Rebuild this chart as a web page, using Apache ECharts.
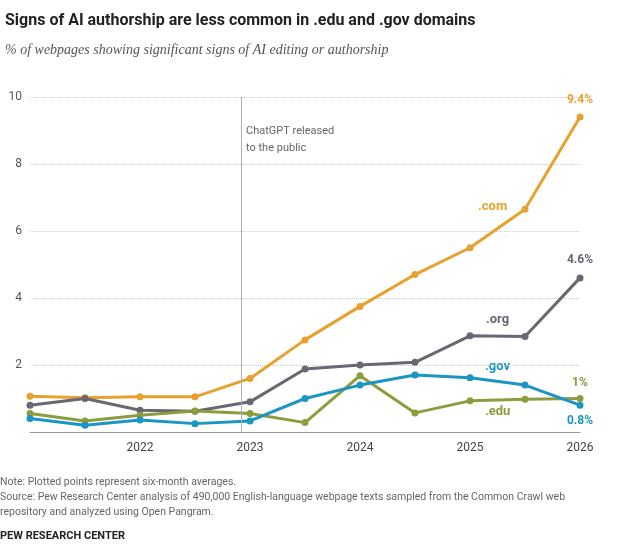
<!DOCTYPE html>
<html lang="en" style="height: 100%">
<head>
<meta charset="UTF-8">
<title>AI authorship</title>
<script src="https://cdn.jsdelivr.net/npm/echarts@6/dist/echarts.min.js"></script>
</head>
<body style="height: 100%;margin: 0;background:#fff">
<div id="chart" style="width:640px;height:553px"></div>
<script>
    var periods = [2021, 2021.5, 2022, 2022.5, 2023, 2023.5, 2024, 2024.5, 2025, 2025.5, 2026];
    var comData = [1.07, 1.02, 1.05, 1.05, 1.6, 2.75, 3.75, 4.7, 5.5, 6.65, 9.4];
    var orgData = [0.8, 1.0, 0.65, 0.62, 0.9, 1.88, 2.0, 2.08, 2.87, 2.85, 4.6];
    var govData = [0.4, 0.2, 0.36, 0.25, 0.33, 1.0, 1.4, 1.7, 1.62, 1.4, 0.8];
    var eduData = [0.55, 0.33, 0.5, 0.63, 0.55, 0.28, 1.68, 0.57, 0.93, 0.98, 1.0];
    var chatgptDate = 2022.92;

    function pairs(arr) {
        return periods.map(function (p, i) { return [p, arr[i]]; });
    }
    var font = 'Franklin Gothic, Liberation Sans Narrow, Roboto, sans-serif';

    function mkSeries(name, data, color, lastLabel) {
        var d = pairs(data);
        if (lastLabel) {
            d[d.length - 1] = {
                value: d[d.length - 1],
                label: { show: true, position: lastLabel.pos || 'top', formatter: lastLabel.text,
                    color: color, fontWeight: 'bold', fontSize: 12, fontFamily: font, distance: lastLabel.dist || 6 }
            };
        }
        return {
            name: name, type: 'line', data: d, symbol: 'circle', symbolSize: 7,
            lineStyle: { color: color, width: 3 }, itemStyle: { color: color },
            label: { show: false }, z: 3
        };
    }

    var chart = echarts.init(document.getElementById('chart'));
    var s = [
        mkSeries('.com', comData, '#e8a02e', { text: '9.4%', pos: 'top', dist: 8 }),
        mkSeries('.org', orgData, '#6b6672', { text: '4.6%', pos: 'top', dist: 8 }),
        mkSeries('.edu', eduData, '#8c9d3e', { text: '1%', pos: 'top', dist: 6 }),
        mkSeries('.gov', govData, '#1b95c2', { text: '0.8%', pos: 'bottom', dist: 6 })
    ];
    s[0].markLine = {
        silent: true, symbol: 'none', label: { show: false },
        lineStyle: { color: '#b0b0b0', type: 'solid', width: 1 },
        data: [[{ coord: [chatgptDate, 0] }, { coord: [chatgptDate, 10] }]]
    };

    chart.setOption({
        animation: false,
        grid: { left: 30, right: 60, top: 97, bottom: 121 },
        title: [
            { text: 'Signs of AI authorship are less common in .edu and .gov domains', left: 0, top: 8,
              textStyle: { fontSize: 16, fontWeight: 'bold', color: '#222', fontFamily: font } },
            { text: '% of webpages showing significant signs of AI editing or authorship', left: 0, top: 38,
              textStyle: { fontSize: 14, fontStyle: 'italic', fontWeight: 'normal', color: '#555', fontFamily: 'Liberation Serif, serif' } }
        ],
        xAxis: {
            type: 'value', min: 2021, max: 2026, interval: 1,
            axisLine: { show: true, lineStyle: { color: '#999' } },
            axisTick: { show: false }, splitLine: { show: false },
            axisLabel: { color: '#444', fontSize: 12, fontFamily: font, margin: 10,
                formatter: function (v) { return v === 2021 ? '' : String(v); } }
        },
        yAxis: {
            type: 'value', min: 0, max: 10, interval: 2,
            axisLine: { show: false }, axisTick: { show: false },
            axisLabel: { color: '#555', fontSize: 12, fontFamily: font, margin: 8,
                formatter: function (v) { return v === 0 ? '' : v; } },
            splitLine: { lineStyle: { color: '#ccc', type: 'dotted' } }
        },
        graphic: [
            { type: 'text', left: 246, top: 123, style: { text: 'ChatGPT released\nto the public', fill: '#666', fontSize: 11, lineHeight: 17, fontFamily: font } },
            { type: 'text', left: 478, top: 200, style: { text: '.com', fill: '#e8a02e', fontSize: 13, fontWeight: 'bold', fontFamily: font } },
            { type: 'text', left: 486, top: 313, style: { text: '.org', fill: '#6b6672', fontSize: 13, fontWeight: 'bold', fontFamily: font } },
            { type: 'text', left: 485, top: 360, style: { text: '.gov', fill: '#1b95c2', fontSize: 13, fontWeight: 'bold', fontFamily: font } },
            { type: 'text', left: 485, top: 405, style: { text: '.edu', fill: '#8c9d3e', fontSize: 13, fontWeight: 'bold', fontFamily: font } },
            { type: 'text', left: 0, top: 475, style: { text: 'Note: Plotted points represent six-month averages.\nSource: Pew Research Center analysis of 490,000 English-language webpage texts sampled from the Common Crawl web\nrepository and analyzed using Open Pangram.', fill: '#666', fontSize: 10.5, lineHeight: 15, fontFamily: font } },
            { type: 'text', left: 0, top: 531, style: { text: 'PEW RESEARCH CENTER', fill: '#222', fontSize: 11, fontWeight: 'bold', fontFamily: font } }
        ],
        series: s
    });
</script>
</body>
</html>
